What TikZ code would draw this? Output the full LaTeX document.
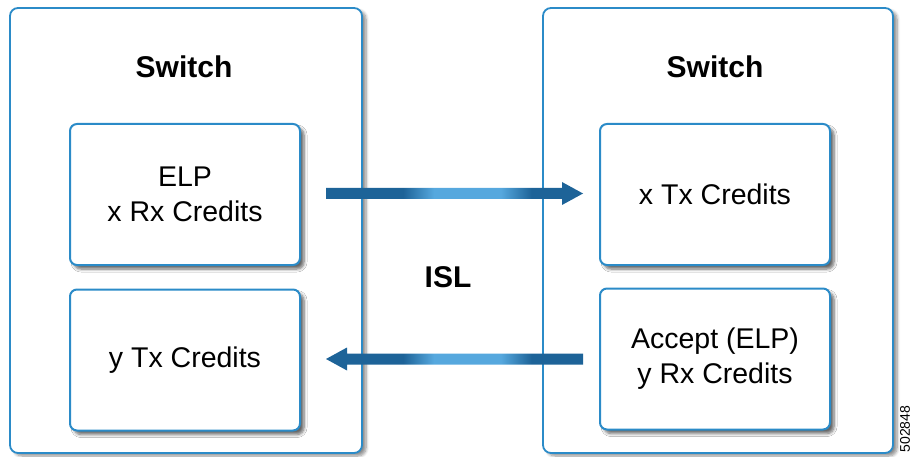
\documentclass[tikz,border=0pt]{standalone}
\usepackage{fontspec}
\setmainfont{Liberation Sans}
\usetikzlibrary{calc,shadows.blur}
\definecolor{boxblue}{HTML}{2B8BC8}
\definecolor{arrdark}{HTML}{1D6398}
\definecolor{arrlight}{HTML}{56A8DE}
\definecolor{shadowc}{HTML}{3A5568}
\pgfdeclarehorizontalshading{islarrow}{100bp}{%
  color(0bp)=(arrdark); color(40bp)=(arrdark); color(46bp)=(arrlight);
  color(59bp)=(arrlight); color(65bp)=(arrdark); color(100bp)=(arrdark)}
\tikzset{
  outerbox/.style={draw=boxblue, line width=1.8pt, fill=white, rounded corners=8pt,
    blur shadow={shadow xshift=4pt, shadow yshift=-3pt, shadow blur radius=3pt, shadow opacity=45, shadow blur steps=6}},
  innerbox/.style={draw=boxblue, line width=2pt, fill=white, rounded corners=7pt,
    minimum width=230pt, minimum height=141pt, inner sep=0pt, align=center,
    font=\fontsize{28.5}{35}\selectfont,
    blur shadow={shadow xshift=4pt, shadow yshift=-4pt, shadow blur radius=3pt, shadow opacity=60, shadow blur steps=6}},
  titletext/.style={font=\fontsize{30}{36}\selectfont\bfseries, inner sep=0pt},
  arrshade/.style={shading=islarrow, draw=none},
}
\begin{document}
\begin{tikzpicture}[x=1pt,y=-1pt]
\useasboundingbox (0,0) rectangle (913,457);
\path[outerbox] (10,8) rectangle (362,453);
\path[outerbox] (543,8) rectangle (893,453);
\node[titletext] (s1) at (184,67) {Switch};
\node[titletext] (s2) at (715,67) {Switch};
\node[innerbox] (l1) at (185,194.5) {\raisebox{-2pt}{\parbox{200pt}{\centering ELP\\x Rx Credits}}};
\node[innerbox] (l2) at (185,360) {\raisebox{-2pt}{y Tx Credits}};
\node[innerbox] (r1) at (715,194.5) {\raisebox{-1pt}{x Tx Credits}};
\node[innerbox] (r2) at (715,359) {\raisebox{-2pt}{\parbox{200pt}{\centering Accept (ELP)\\y Rx Credits}}};
\node[titletext] (isl) at (448,277) {ISL};
% top arrow
\coordinate (a1) at ($(l1.east)+(25,-1)$);
\coordinate (a2) at ($(r1.west)+(-16,-1)$);
\shade[arrshade] ($(a1)+(0,-5.5)$) -- ($(a2)+(-21,-5.5)$) -- ($(a2)+(-21,-11.5)$) -- (a2)
  -- ($(a2)+(-21,11.5)$) -- ($(a2)+(-21,5.5)$) -- ($(a1)+(0,5.5)$) -- cycle;
% bottom arrow
\coordinate (b1) at ($(r2.west)+(-16,0)$);
\coordinate (b2) at ($(l2.east)+(25,-1)$);
\shade[arrshade] ($(b1)+(0,-5.5)$) -- ($(b2)+(21,-5.5)$) -- ($(b2)+(21,-11.5)$) -- (b2)
  -- ($(b2)+(21,11.5)$) -- ($(b2)+(21,5.5)$) -- ($(b1)+(0,5.5)$) -- cycle;
\node[rotate=90, font=\fontsize{14}{14}\selectfont, inner sep=0pt] (id) at (905,429) {502848};
\end{tikzpicture}
\end{document}
